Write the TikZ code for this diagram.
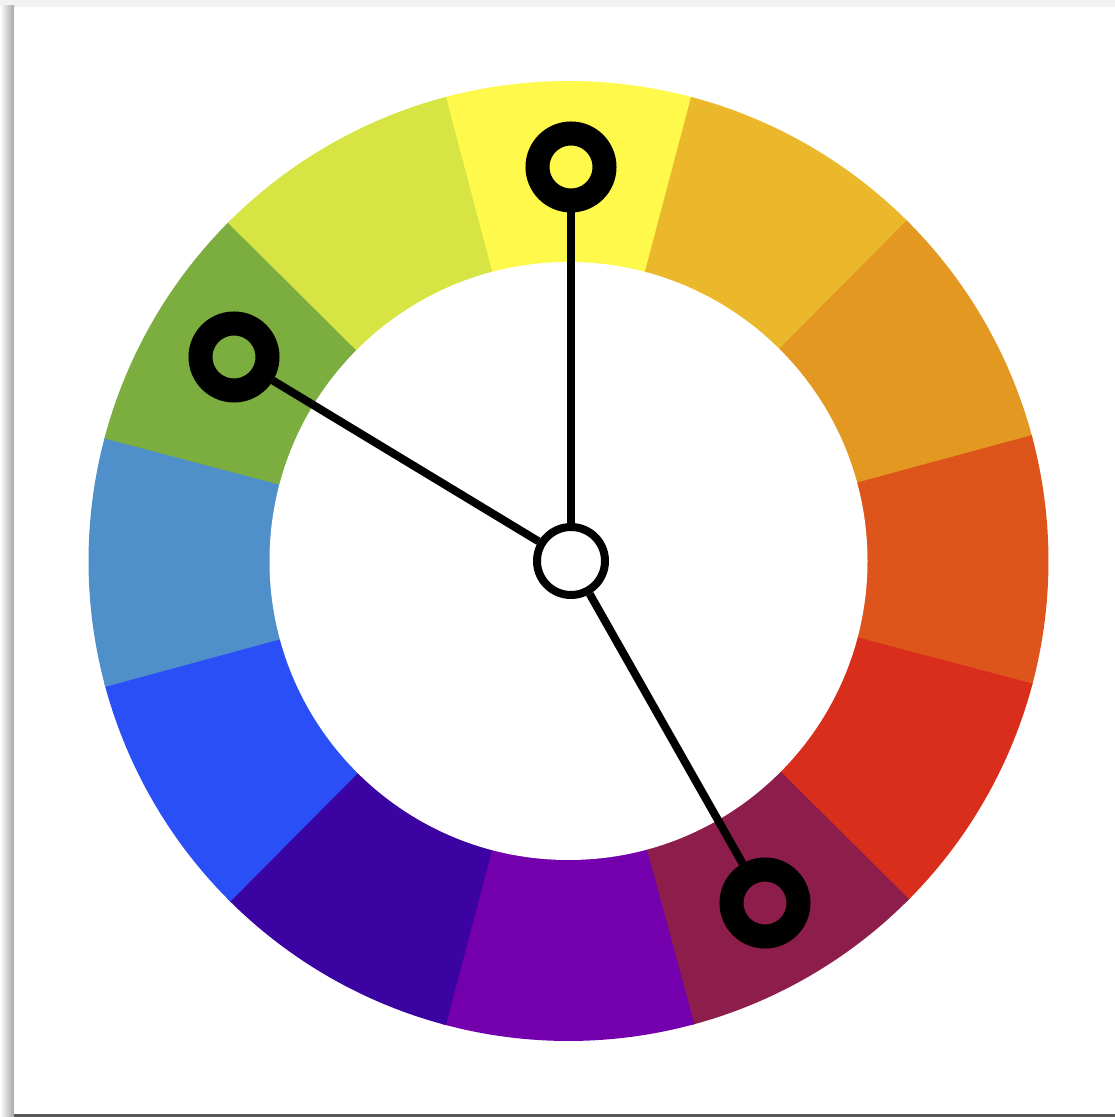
\documentclass[tikz,border=0pt]{standalone}
\usetikzlibrary{calc}
\definecolor{cY}{HTML}{FEF94A}
\definecolor{cGo}{HTML}{EAB82A}
\definecolor{cOr}{HTML}{E39822}
\definecolor{cOR}{HTML}{DD551B}
\definecolor{cRe}{HTML}{D92E1B}
\definecolor{cMa}{HTML}{8D1D4B}
\definecolor{cPu}{HTML}{7400AD}
\definecolor{cIn}{HTML}{3A03A2}
\definecolor{cBl}{HTML}{2A4FF6}
\definecolor{cLb}{HTML}{4F8FCA}
\definecolor{cGr}{HTML}{7BAD3F}
\definecolor{cYg}{HTML}{D6E543}
\tikzset{
  ringmark/.style={circle, draw=black, line width=24pt, minimum size=67pt, inner sep=0pt},
  hub/.style={circle, draw=black, fill=white, line width=8pt, minimum size=68pt, inner sep=0pt},
  spoke/.style={draw=black, line width=8pt},
}
\begin{document}
\begin{tikzpicture}[x=1pt,y=1pt]
\useasboundingbox (0,0) rectangle (1115,1117);
% page and frame
\fill[white] (0,0) rectangle (1115,1117);
\fill[gray!10] (0,1110) rectangle (1115,1117);
\shade[left color=white, right color=gray!70] (0,0) rectangle (14,1111);
\fill[white] (14,3) rectangle (1115,1110);
\fill[black!65] (14,0) rectangle (1115,3);
% wheel
\coordinate (W) at (568.5,556);
\foreach \a/\c in {90/cY,60/cGo,30/cOr,0/cOR,-30/cRe,-60/cMa,-90/cPu,-120/cIn,-150/cBl,180/cLb,150/cGr,120/cYg}{
  \fill[\c] (W) -- ++(\a-15.2:480) arc[start angle=\a-15.2, end angle=\a+15.2, radius=480] -- cycle;
}
\fill[white] (W) circle[radius=299];
% markers
\node[hub] (C) at (571,556) {};
\node[ringmark] (Y) at (571,950) {};
\node[ringmark] (G) at (234,760) {};
\node[ringmark] (M) at (765,214) {};
\draw[spoke] (C) -- (Y);
\draw[spoke] (C) -- (G);
\draw[spoke] (C) -- (M);
\end{tikzpicture}
\end{document}
